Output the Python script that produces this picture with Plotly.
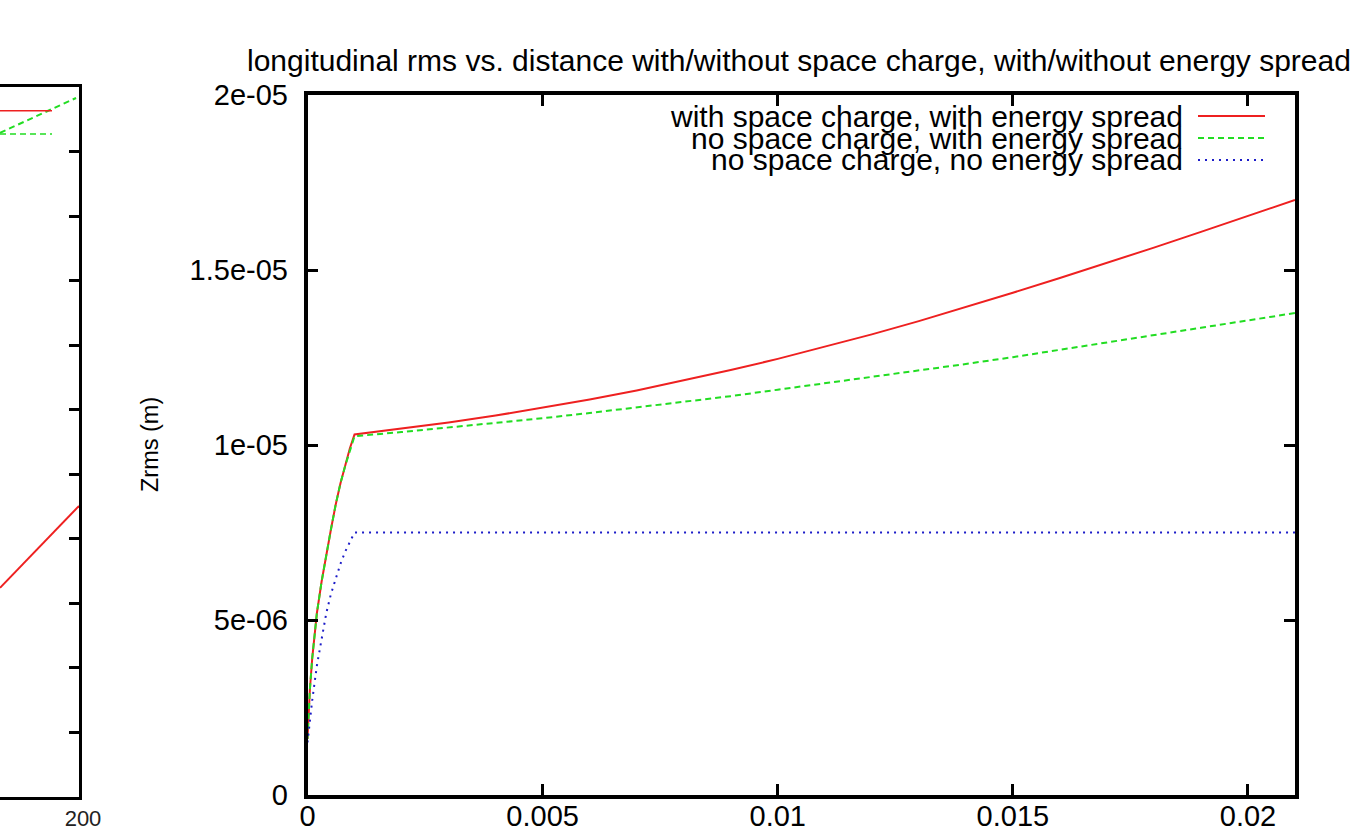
import plotly.graph_objects as go

# ---- data -------------------------------------------------------------
# distance (m) for the two runs with energy spread
dist_es = [0.0, 0.00005, 0.0001, 0.0002, 0.0003, 0.0004, 0.0005, 0.0006,
           0.0007, 0.0008, 0.0009, 0.001, 0.002, 0.003, 0.004, 0.005,
           0.006, 0.007, 0.008, 0.009, 0.010, 0.011, 0.012, 0.013,
           0.014, 0.015, 0.016, 0.017, 0.018, 0.019, 0.020, 0.021]

# Zrms (m): with space charge, with energy spread
zrms_sc_es = [1.6e-06, 3.0e-06, 3.9e-06, 5.2e-06, 6.1e-06, 6.9e-06, 7.6e-06, 8.3e-06,
              8.9e-06, 9.4e-06, 9.9e-06, 1.030e-05, 1.046e-05, 1.064e-05, 1.084e-05, 1.106e-05,
              1.130e-05, 1.156e-05, 1.184e-05, 1.214e-05, 1.246e-05, 1.280e-05, 1.316e-05, 1.354e-05,
              1.394e-05, 1.435e-05, 1.477e-05, 1.520e-05, 1.564e-05, 1.609e-05, 1.654e-05, 1.700e-05]

# Zrms (m): no space charge, with energy spread
zrms_nosc_es = [1.6e-06, 3.0e-06, 3.9e-06, 5.2e-06, 6.1e-06, 6.9e-06, 7.6e-06, 8.3e-06,
                8.9e-06, 9.4e-06, 9.85e-06, 1.025e-05, 1.037e-05, 1.0495e-05, 1.0625e-05, 1.0765e-05,
                1.0915e-05, 1.107e-05, 1.123e-05, 1.1395e-05, 1.158e-05, 1.176e-05, 1.194e-05, 1.2125e-05,
                1.2315e-05, 1.251e-05, 1.2715e-05, 1.2925e-05, 1.3135e-05, 1.335e-05, 1.356e-05, 1.377e-05]

# distance (m) and Zrms (m): no space charge, no energy spread
dist_noes = [0.0, 0.0001, 0.0002, 0.0003, 0.0004, 0.0005, 0.0006, 0.0007,
             0.0008, 0.0009, 0.001, 0.021]
zrms_nosc_noes = [1.5e-06, 2.7e-06, 3.7e-06, 4.5e-06, 5.2e-06, 5.75e-06, 6.2e-06, 6.6e-06,
                  6.95e-06, 7.25e-06, 7.5e-06, 7.5e-06]

x_tickvals = [0, 0.005, 0.01, 0.015, 0.02]
x_ticktext = ["0", "0.005", "0.01", "0.015", "0.02"]
y_tickvals = [0, 5e-06, 1e-05, 1.5e-05, 2e-05]
y_ticktext = ["0", "5e-06", "1e-05", "1.5e-05", "2e-05"]

series_names = ["with space charge, with energy spread",
                "no space charge, with energy spread",
                "no space charge, no energy spread"]

# neighbouring panel (only its right-hand end is on the page)
prev_x_red = [184, 192, 200]
prev_y_red = [3.24, 3.88, 4.51]
prev_x_green = [184, 199.4]
prev_y_green = [10.29, 10.83]
prev_x_ticks = [200]
prev_x_ticktext = ["200"]

# ---- styling -----------------------------------------------------------
W, H = 1355, 835
FONT = "Liberation Sans"
RED, GREEN, BLUE = "#ee2020", "#22dd22", "#1c1cc8"
styles = [dict(color=RED, width=2, dash="solid"),
          dict(color=GREEN, width=2, dash="6px,4px"),
          dict(color=BLUE, width=2, dash="2px,5px")]


def fx(p):
    return p / W


def fy(p):
    return 1 - p / H


fig = go.Figure()

for xs, ys, name, st in zip([dist_es, dist_es, dist_noes],
                            [zrms_sc_es, zrms_nosc_es, zrms_nosc_noes],
                            series_names, styles):
    fig.add_trace(go.Scatter(x=xs, y=ys, mode="lines", name=name, line=st,
                             showlegend=False, xaxis="x", yaxis="y"))

fig.add_trace(go.Scatter(x=prev_x_red, y=prev_y_red, mode="lines", line=styles[0],
                         showlegend=False, xaxis="x2", yaxis="y2"))
fig.add_trace(go.Scatter(x=prev_x_green, y=prev_y_green, mode="lines",
                         line=dict(color=GREEN, width=2, dash="6px,4px"),
                         showlegend=False, xaxis="x2", yaxis="y2"))

axis_common = dict(showgrid=False, zeroline=False, showline=True, linecolor="black",
                   linewidth=3.5, ticks="inside", ticklen=11, tickwidth=2.5,
                   tickcolor="black", automargin=False,
                   tickfont=dict(family=FONT, size=29, color="black"))

fig.update_layout(
    template="none",
    width=W, height=H, autosize=False, margin=dict(l=0, r=0, t=0, b=0, pad=0),
    paper_bgcolor="white", plot_bgcolor="white", showlegend=False,
    xaxis=dict(domain=[fx(307.5), fx(1295)], range=[0, 0.021], anchor="y",
               tickvals=x_tickvals, ticktext=x_ticktext, mirror="ticks",
               ticklabelstandoff=-8, **axis_common),
    yaxis=dict(domain=[fy(795), fy(95)], range=[0, 2e-05], anchor="x",
               tickvals=y_tickvals, ticktext=y_ticktext, mirror="ticks",
               ticklabelstandoff=10, **axis_common),
    xaxis2=dict(domain=[0, fx(79)], range=[184, 200], anchor="y2",
                tickvals=prev_x_ticks, ticktext=prev_x_ticktext, ticks="",
                showgrid=False, zeroline=False, showline=True, mirror=True,
                linecolor="black", linewidth=3, automargin=False,
                tickfont=dict(family=FONT, size=22, color="#222"),
                ticklabelstandoff=0, ticklabelshift=4),
    yaxis2=dict(domain=[fy(797), fy(87)], range=[0, 11], anchor="x2", side="right",
                dtick=1, ticks="inside", ticklen=10, tickwidth=2.5, tickcolor="black",
                showticklabels=False, showgrid=False, zeroline=False, automargin=False,
                showline=True, linecolor="black", linewidth=3),
)

# title and axis label
fig.add_annotation(text="longitudinal rms vs. distance with/without space charge, with/without energy spread",
                   x=fx(799), y=fy(60), xref="paper", yref="paper", showarrow=False,
                   xanchor="center", yanchor="middle",
                   font=dict(family=FONT, size=30, color="black"))
fig.add_annotation(text="Zrms (m)", x=fx(150), y=fy(445), xref="paper", yref="paper",
                   showarrow=False, textangle=-90, xanchor="center", yanchor="middle",
                   font=dict(family=FONT, size=23.5, color="black"))

# key: right-aligned labels with line samples to their right
key_rows = [116, 138, 160]
for name, st, row in zip(series_names, styles, key_rows):
    fig.add_annotation(text=name, x=fx(1185), y=fy(row), xref="paper", yref="paper",
                       showarrow=False, xanchor="right", yanchor="middle",
                       font=dict(family=FONT, size=30, color="black"))
    fig.add_shape(type="line", xref="paper", yref="paper",
                  x0=fx(1198), x1=fx(1265), y0=fy(row), y1=fy(row), line=st)

# key samples of the neighbouring panel
fig.add_shape(type="line", xref="paper", yref="paper", x0=0, x1=fx(52),
              y0=fy(110.7), y1=fy(110.7), line=dict(color=RED, width=1.5))
fig.add_shape(type="line", xref="paper", yref="paper", x0=0, x1=fx(52),
              y0=fy(134), y1=fy(134), line=dict(color=GREEN, width=1.5, dash="6px,4px"))

fig.write_html("out.html")
